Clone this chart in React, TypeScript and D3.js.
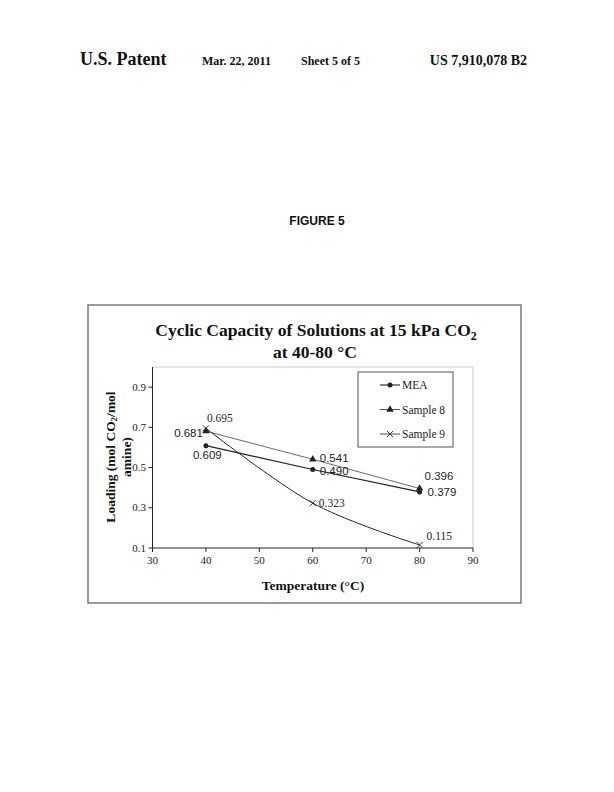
import React from "react";
import * as d3 from "d3";

const temps = [40, 60, 80];
const meaValues = [0.609, 0.49, 0.379];
const sample8Values = [0.681, 0.541, 0.396];
const sample9Values = [0.695, 0.323, 0.115];
const xTicks = [30, 40, 50, 60, 70, 80, 90];
const yTicks = [0.1, 0.3, 0.5, 0.7, 0.9];
const seriesNames = ["MEA", "Sample 8", "Sample 9"];
const meaLabels = ["0.609", "0.490", "0.379"];
const sample8Labels = ["0.681", "0.541", "0.396"];
const sample9Labels = ["0.695", "0.323", "0.115"];

const serif = "'Liberation Serif', 'Times New Roman', serif";
const sans = "'Liberation Sans', Arial, sans-serif";

export default function App() {
  const x = d3.scaleLinear().domain([30, 90]).range([152.5, 473]);
  const y = d3.scaleLinear().domain([0.1, 1.0]).range([548, 367]);
  const lineStraight = d3
    .line<number>()
    .x((_, i) => x(temps[i]))
    .y((d) => y(d));
  const lineSmooth = d3
    .line<number>()
    .x((_, i) => x(temps[i]))
    .y((d) => y(d))
    .curve(d3.curveCardinal.tension(0));

  const stroke = "#222";

  const diamond = (cx: number, cy: number, key: string) => (
    <circle key={key} cx={cx} cy={cy} r={2.5} fill={stroke} />
  );
  const triangle = (cx: number, cy: number, key: string) => {
    const p = d3.symbol(d3.symbolTriangle, 24)();
    return <path key={key} d={p || ""} transform={`translate(${cx},${cy})`} fill={stroke} />;
  };
  const cross = (cx: number, cy: number, key: string) => (
    <g key={key} stroke={stroke} strokeWidth={0.9}>
      <line x1={cx - 3} y1={cy - 3} x2={cx + 3} y2={cy + 3} />
      <line x1={cx - 3} y1={cy + 3} x2={cx + 3} y2={cy - 3} />
    </g>
  );

  // label placements (offsets relative to point)
  const meaLabelPos = [
    { dx: -13, dy: 13, anchor: "start", font: sans },
    { dx: 7, dy: 5, anchor: "start", font: sans },
    { dx: 8, dy: 4.5, anchor: "start", font: sans },
  ];
  const s8LabelPos = [
    { dx: -3, dy: 6, anchor: "end", font: sans },
    { dx: 7, dy: 3, anchor: "start", font: sans },
    { dx: 5, dy: -8.5, anchor: "start", font: sans },
  ];
  const s9LabelPos = [
    { dx: 1, dy: -6, anchor: "start", font: serif },
    { dx: 6, dy: 4, anchor: "start", font: serif },
    { dx: 7, dy: -5, anchor: "start", font: serif },
  ];

  return (
    <svg
      width={614}
      height={792}
      style={{ position: "absolute", left: 0, top: 0, background: "#fff" }}
    >
      <rect x={0} y={0} width={614} height={792} fill="#fff" />
      {/* header */}
      <text x={80} y={65} fontFamily={serif} fontWeight="bold" fontSize={18} fill="#111">
        U.S. Patent
      </text>
      <text x={202} y={64.5} fontFamily={serif} fontWeight="bold" fontSize={12} fill="#111">
        Mar. 22, 2011
      </text>
      <text x={301} y={64.5} fontFamily={serif} fontWeight="bold" fontSize={12} fill="#111">
        Sheet 5 of 5
      </text>
      <text x={527} y={65} textAnchor="end" fontFamily={serif} fontWeight="bold" fontSize={14} fill="#111">
        US 7,910,078 B2
      </text>
      <text x={317} y={225} textAnchor="middle" fontFamily={sans} fontWeight="bold" fontSize={12} fill="#111">
        FIGURE 5
      </text>

      {/* outer frame */}
      <rect x={88} y={305} width={433} height={298} fill="none" stroke="#666" strokeWidth={1.3} />

      {/* title */}
      <text x={316} y={336} textAnchor="middle" fontFamily={serif} fontWeight="bold" fontSize={17.5} fill="#111">
        Cyclic Capacity of Solutions at 15 kPa CO
        <tspan fontSize={12} dy={4}>2</tspan>
      </text>
      <text x={315} y={358} textAnchor="middle" fontFamily={serif} fontWeight="bold" fontSize={17.5} fill="#111">
        at 40-80 °C
      </text>

      {/* plot area border (light) */}
      <line x1={x(30)} y1={y(1.0)} x2={x(90)} y2={y(1.0)} stroke="#bbb" strokeWidth={0.8} />
      <line x1={x(90)} y1={y(1.0)} x2={x(90)} y2={y(0.1)} stroke="#bbb" strokeWidth={0.8} />

      {/* axes */}
      <line x1={x(30)} y1={y(0.1)} x2={x(90)} y2={y(0.1)} stroke={stroke} strokeWidth={1} />
      <line x1={x(30)} y1={y(0.1)} x2={x(30)} y2={y(1.0)} stroke={stroke} strokeWidth={1} />
      {xTicks.map((t) => (
        <g key={"xt" + t}>
          <line x1={x(t)} x2={x(t)} y1={y(0.1)} y2={y(0.1) + 4} stroke={stroke} />
          <text x={x(t)} y={564} textAnchor="middle" fontFamily={serif} fontSize={11} fill="#222">
            {t}
          </text>
        </g>
      ))}
      {yTicks.map((t) => (
        <g key={"yt" + t}>
          <line x1={x(30) - 4} x2={x(30)} y1={y(t)} y2={y(t)} stroke={stroke} />
          <text x={146} y={y(t) + 3.5} textAnchor="end" fontFamily={serif} fontSize={11} fill="#222">
            {t.toFixed(1)}
          </text>
        </g>
      ))}

      {/* axis titles */}
      <text x={313} y={590} textAnchor="middle" fontFamily={serif} fontWeight="bold" fontSize={13.5} fill="#111">
        Temperature (°C)
      </text>
      <g transform="translate(115,457) rotate(-90)">
        <text x={0} y={0} textAnchor="middle" fontFamily={serif} fontWeight="bold" fontSize={13.5} fill="#111">
          Loading (mol CO<tspan fontSize={9} dy={2}>2</tspan>
          <tspan dy={-2}>/mol</tspan>
        </text>
        <text x={0} y={16} textAnchor="middle" fontFamily={serif} fontWeight="bold" fontSize={13.5} fill="#111">
          amine)
        </text>
      </g>

      {/* series */}
      <path d={lineStraight(meaValues) || ""} fill="none" stroke={stroke} strokeWidth={1.1} />
      <path d={lineStraight(sample8Values) || ""} fill="none" stroke="#444" strokeWidth={0.8} />
      <path d={lineSmooth(sample9Values) || ""} fill="none" stroke={stroke} strokeWidth={1} />
      {meaValues.map((v, i) => diamond(x(temps[i]), y(v), "m" + i))}
      {sample8Values.map((v, i) => triangle(x(temps[i]), y(v), "s8" + i))}
      {sample9Values.map((v, i) => cross(x(temps[i]), y(v), "s9" + i))}

      {/* data labels */}
      {meaValues.map((v, i) => (
        <text key={"ml" + i} x={x(temps[i]) + meaLabelPos[i].dx} y={y(v) + meaLabelPos[i].dy} textAnchor={meaLabelPos[i].anchor as any} fontFamily={meaLabelPos[i].font} fontSize={11.5} fill="#222">
          {meaLabels[i]}
        </text>
      ))}
      {sample8Values.map((v, i) => (
        <text key={"sl" + i} x={x(temps[i]) + s8LabelPos[i].dx} y={y(v) + s8LabelPos[i].dy} textAnchor={s8LabelPos[i].anchor as any} fontFamily={s8LabelPos[i].font} fontSize={11.5} fill="#222">
          {sample8Labels[i]}
        </text>
      ))}
      {sample9Values.map((v, i) => (
        <text key={"nl" + i} x={x(temps[i]) + s9LabelPos[i].dx} y={y(v) + s9LabelPos[i].dy} textAnchor={s9LabelPos[i].anchor as any} fontFamily={s9LabelPos[i].font} fontSize={11.5} fill="#222">
          {sample9Labels[i]}
        </text>
      ))}

      {/* legend */}
      <rect x={358} y={372} width={95} height={75} fill="#fff" stroke="#555" strokeWidth={1} />
      {seriesNames.map((name, i) => {
        const ly = 385 + i * 24.5;
        return (
          <g key={"lg" + i}>
            <line x1={380} x2={400} y1={ly} y2={ly} stroke={stroke} strokeWidth={i === 0 ? 1.1 : 0.8} />
            {i === 0 && diamond(390, ly, "lgm")}
            {i === 1 && triangle(390, ly, "lgt")}
            {i === 2 && cross(390, ly, "lgx")}
            <text x={402} y={ly + 4} fontFamily={serif} fontSize={11.5} fill="#222">
              {name}
            </text>
          </g>
        );
      })}
    </svg>
  );
}
